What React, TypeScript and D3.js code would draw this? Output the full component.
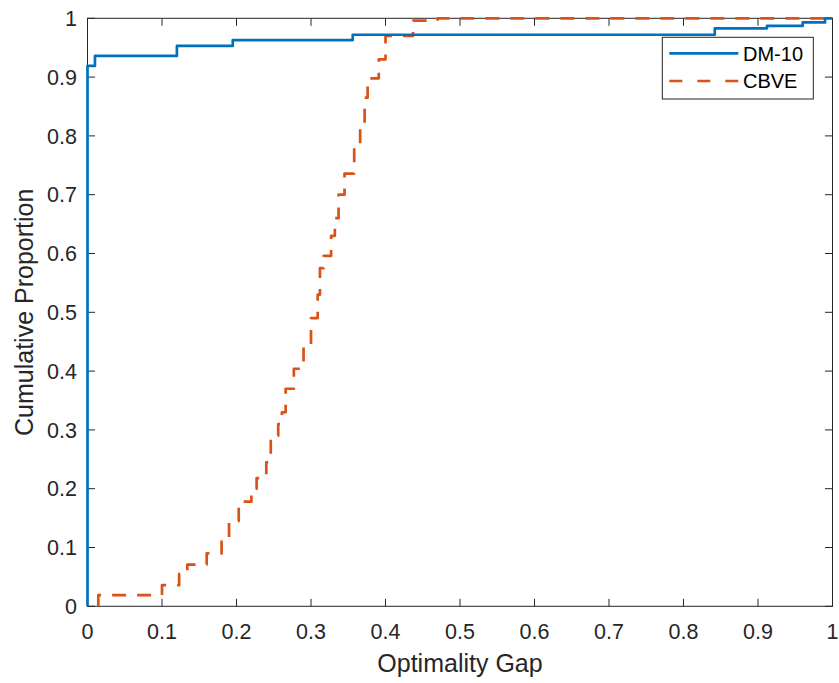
import React, { useRef, useEffect } from 'react'
import * as d3 from 'd3'

// step points (x where the step happens, y after the step)
const dmX = [0, 0, 0.01, 0.12, 0.195, 0.356, 0.842, 0.912, 0.96, 0.99, 1]
const dmY = [0, 0.919, 0.936, 0.953, 0.963, 0.972, 0.983, 0.987, 0.993, 1, 1]

const cbveX = [
  0.0145, 0.0145, 0.1, 0.123, 0.134, 0.16, 0.18, 0.19, 0.203, 0.22, 0.227, 0.24,
  0.246, 0.256, 0.261, 0.266, 0.277, 0.29, 0.3, 0.309, 0.312, 0.317, 0.327,
  0.332, 0.337, 0.345, 0.358, 0.366, 0.372, 0.376, 0.391, 0.4, 0.437, 0.47, 1,
]
const cbveY = [
  0, 0.019, 0.036, 0.055, 0.071, 0.09, 0.11, 0.145, 0.178, 0.2, 0.218, 0.245,
  0.29, 0.31, 0.33, 0.37, 0.404, 0.445, 0.49, 0.53, 0.575, 0.596, 0.63, 0.66,
  0.7, 0.736, 0.78, 0.82, 0.865, 0.898, 0.93, 0.97, 0.996, 1, 1,
]

const xTicks = [0, 0.1, 0.2, 0.3, 0.4, 0.5, 0.6, 0.7, 0.8, 0.9, 1]
const yTicks = [0, 0.1, 0.2, 0.3, 0.4, 0.5, 0.6, 0.7, 0.8, 0.9, 1]

const seriesNames = ['DM-10', 'CBVE']
const seriesColors = ['#0072BD', '#D95319']

function App() {
  const svgRef = useRef(null)

  useEffect(() => {
    const width = 839
    const height = 683
    const margin = { left: 87.5, right: 6.5, top: 18.3, bottom: 76.7 }
    const font = 'Helvetica, Arial, "Liberation Sans", sans-serif'
    const axisColor = '#262626'
    const tickLen = 7.5

    const svg = d3.select(svgRef.current)
    svg.selectAll('*').remove()
    svg.attr('width', width).attr('height', height)

    svg.append('rect').attr('width', width).attr('height', height).attr('fill', '#fff')

    const x = d3.scaleLinear().domain([0, 1]).range([margin.left, width - margin.right])
    const y = d3.scaleLinear().domain([0, 1]).range([height - margin.bottom, margin.top])

    const g = svg.append('g')

    //ticks on all four sides, pointing inwards
    xTicks.forEach((t) => {
      g.append('line')
        .attr('x1', x(t)).attr('x2', x(t))
        .attr('y1', y(0)).attr('y2', y(0) - tickLen)
        .attr('stroke', axisColor)
      g.append('line')
        .attr('x1', x(t)).attr('x2', x(t))
        .attr('y1', y(1)).attr('y2', y(1) + tickLen)
        .attr('stroke', axisColor)
      g.append('text')
        .attr('x', x(t))
        .attr('y', y(0) + 33)
        .attr('text-anchor', 'middle')
        .attr('font-family', font)
        .attr('font-size', 21.5)
        .attr('fill', axisColor)
        .text(d3.format('~g')(t))
    })
    yTicks.forEach((t) => {
      g.append('line')
        .attr('x1', x(0)).attr('x2', x(0) + tickLen)
        .attr('y1', y(t)).attr('y2', y(t))
        .attr('stroke', axisColor)
      g.append('line')
        .attr('x1', x(1)).attr('x2', x(1) - tickLen)
        .attr('y1', y(t)).attr('y2', y(t))
        .attr('stroke', axisColor)
      g.append('text')
        .attr('x', x(0) - 10.5)
        .attr('y', y(t))
        .attr('dy', '0.36em')
        .attr('text-anchor', 'end')
        .attr('font-family', font)
        .attr('font-size', 21.5)
        .attr('fill', axisColor)
        .text(d3.format('~g')(t))
    })

    //axes box
    g.append('rect')
      .attr('x', x(0))
      .attr('y', y(1))
      .attr('width', x(1) - x(0))
      .attr('height', y(0) - y(1))
      .attr('fill', 'none')
      .attr('stroke', axisColor)
      .attr('stroke-width', 1)

    //axis labels
    g.append('text')
      .attr('x', (x(0) + x(1)) / 2)
      .attr('y', 672)
      .attr('text-anchor', 'middle')
      .attr('font-family', font)
      .attr('font-size', 25)
      .attr('fill', axisColor)
      .text('Optimality Gap')
    g.append('text')
      .attr('transform', `translate(33,${(y(0) + y(1)) / 2}) rotate(-90)`)
      .attr('text-anchor', 'middle')
      .attr('font-family', font)
      .attr('font-size', 25)
      .attr('fill', axisColor)
      .text('Cumulative Proportion')

    //stair lines
    const line = d3
      .line<[number, number]>()
      .x((d) => x(d[0]))
      .y((d) => y(d[1]))
      .curve(d3.curveStepAfter)

    const dmData = dmX.map((v, i) => [v, dmY[i]] as [number, number])
    const cbveData = cbveX.map((v, i) => [v, cbveY[i]] as [number, number])

    g.append('path')
      .attr('d', line(cbveData))
      .attr('fill', 'none')
      .attr('stroke', seriesColors[1])
      .attr('stroke-width', 2.7)
      .attr('stroke-linejoin', 'round')
      .attr('stroke-dasharray', '14,11')
    g.append('path')
      .attr('d', line(dmData))
      .attr('fill', 'none')
      .attr('stroke', seriesColors[0])
      .attr('stroke-width', 2.7)
      .attr('stroke-linejoin', 'round')

    //legend
    const legend = g.append('g')
    legend
      .append('rect')
      .attr('x', 662.3)
      .attr('y', 37.3)
      .attr('width', 151)
      .attr('height', 61.7)
      .attr('fill', '#fff')
      .attr('stroke', axisColor)
      .attr('stroke-width', 1)
    seriesNames.forEach((name, i) => {
      const ly = 53.3 + i * 27.7
      legend
        .append('line')
        .attr('x1', 669.3)
        .attr('x2', 738.3)
        .attr('y1', ly)
        .attr('y2', ly)
        .attr('stroke', seriesColors[i])
        .attr('stroke-width', 2.7)
        .attr('stroke-dasharray', i === 1 ? '13,15' : null)
      legend
        .append('text')
        .attr('x', 743)
        .attr('y', ly)
        .attr('dy', '0.36em')
        .attr('font-family', font)
        .attr('font-size', 20)
        .attr('fill', '#000')
        .text(name)
    })
  }, [])

  return (
    <div style={{ position: 'absolute', left: 0, top: 0 }}>
      <svg ref={svgRef} style={{ display: 'block' }} />
    </div>
  )
}

export default App
